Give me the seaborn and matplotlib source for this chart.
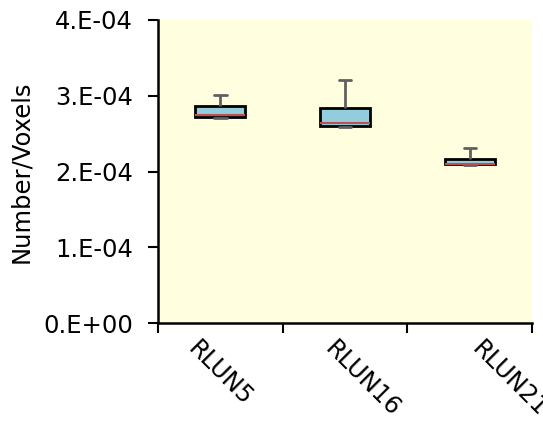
import seaborn as sns
import matplotlib.pyplot as plt
import matplotlib.ticker as mticker
import matplotlib.transforms as mtrans
import pandas as pd

# five-number summaries: min, q1, median, q3, max
samples = ["RLUN5", "RLUN16", "RLUN21"]
rlun5 = [2.71e-4, 2.72e-4, 2.745e-4, 2.87e-4, 3.01e-4]
rlun16 = [2.59e-4, 2.605e-4, 2.635e-4, 2.835e-4, 3.21e-4]
rlun21 = [2.09e-4, 2.095e-4, 2.10e-4, 2.16e-4, 2.31e-4]
yticks = [0, 1e-4, 2e-4, 3e-4, 4e-4]

df = pd.DataFrame({
    "sample": [s for s, v in zip(samples, [rlun5, rlun16, rlun21]) for _ in v],
    "value": rlun5 + rlun16 + rlun21,
})

sns.set_style("white")
plt.rcParams["font.family"] = ["DejaVu Sans"]
plt.rcParams["text.color"] = "black"
plt.rcParams["axes.labelcolor"] = "black"
fs = 17.5

fig = plt.figure(figsize=(5.43, 4.23), dpi=100)
ax = fig.add_axes([0.291, 0.236, 0.689, 0.717])
ax.set_facecolor("#FFFFE0")

sns.boxplot(data=df, x="sample", y="value", order=samples, ax=ax,
            whis=(0, 100), width=0.4, capwidths=0.1, showfliers=False,
            boxprops=dict(facecolor="#93CDDD", edgecolor="black", linewidth=2),
            whiskerprops=dict(color="#606060", linewidth=2),
            capprops=dict(color="#606060", linewidth=2),
            medianprops=dict(color="#C0504D", linewidth=1.5))

ax.set_xlim(-0.5, 2.5)
ax.set_ylim(0, 4e-4)
ax.set_yticks(yticks)
ax.yaxis.set_major_formatter(mticker.FuncFormatter(lambda v, p: f"{v:#.0E}"))

ax.set_xticks([-0.5, 0.5, 1.5, 2.5], minor=True)
ax.tick_params(axis="x", which="major", bottom=True, length=0, pad=10,
               labelsize=fs, labelcolor="black")
ax.tick_params(axis="x", which="minor", bottom=True, length=7, width=1.5,
               color="black", direction="out")
ax.tick_params(axis="y", left=True, length=7, width=1.5, color="black",
               direction="out", labelsize=fs, labelcolor="black", pad=11)

# the labels in the original drift to the right of their categories
shifts = [0, 17, 40]
for lab, dx in zip(ax.get_xticklabels(), shifts):
    lab.set_rotation(-45)
    lab.set_ha("center")
    lab.set_va("top")
    lab.set_transform(lab.get_transform() + mtrans.ScaledTranslation(dx / 100, 0, fig.dpi_scale_trans))

for s in ["top", "right"]:
    ax.spines[s].set_visible(False)
for s in ["left", "bottom"]:
    ax.spines[s].set_color("black")
    ax.spines[s].set_linewidth(1.8)

ax.set_xlabel("")
ax.set_ylabel("Number/Voxels", fontsize=fs, labelpad=7)

fig.savefig("out.png", dpi=100)
